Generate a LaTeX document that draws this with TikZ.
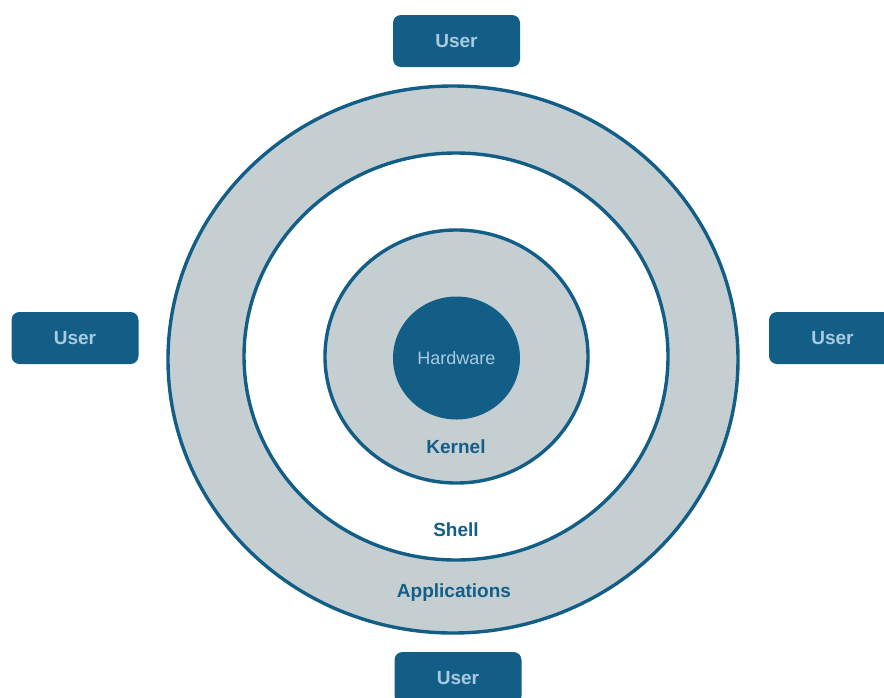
\documentclass[tikz,border=0pt]{standalone}
\usepackage{fontspec}
\setmainfont{Liberation Sans}
\usetikzlibrary{shapes.geometric}
\definecolor{osblue}{HTML}{135E87}
\definecolor{ringgray}{HTML}{C5CFD2}
\definecolor{paleblue}{HTML}{AACAE0}
\tikzset{
  ring/.style={ellipse, draw=osblue, line width=3.4pt, inner sep=0pt},
  userbox/.style={rectangle, rounded corners=8pt, fill=osblue, minimum width=127pt,
    minimum height=52pt, text=paleblue, font=\fontsize{19}{22}\selectfont\bfseries},
  layerlabel/.style={text=osblue, font=\fontsize{19}{22}\selectfont\bfseries},
}
\begin{document}
\begin{tikzpicture}[x=1pt,y=-1pt]
  \useasboundingbox (0,0) rectangle (884,697);
  \clip (0,0) rectangle (884,697);
  % concentric layers, outermost first
  \node[ring, fill=ringgray, minimum width=570pt, minimum height=547pt] (apps) at (453,359.5) {};
  \node[ring, fill=white, minimum width=424pt, minimum height=407pt] (shell) at (456,356.5) {};
  \node[ring, fill=ringgray, minimum width=263pt, minimum height=253pt] (kernel) at (456.5,356.5) {};
  \node[ellipse, fill=osblue, minimum width=127pt, minimum height=123pt, inner sep=0pt,
        text=paleblue, font=\fontsize{18}{21}\selectfont] (hw) at (456.5,358) {Hardware};
  % layer names
  \node[layerlabel] (kernellbl) at (456,447) {Kernel};
  \node[layerlabel] (shelllbl) at (456,530) {Shell};
  \node[layerlabel] (appslbl) at (454,593) {Applications};
  % users around the system
  \node[userbox] (utop) at (456.5,41) {User};
  \node[userbox] (uleft) at (75,338) {User};
  \node[userbox] (uright) at (832.5,338) {User};
  \node[userbox] (ubottom) at (458,678) {User};
\end{tikzpicture}
\end{document}
